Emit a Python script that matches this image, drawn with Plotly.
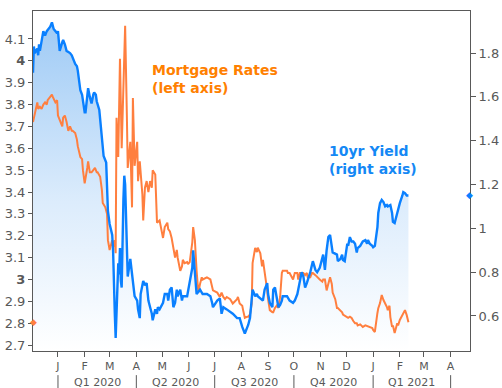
import plotly.graph_objects as go
import pandas as pd

# ---------------- data ----------------
yield_dates = [
    "2019-12-03", "2019-12-04", "2019-12-05", "2019-12-08", "2019-12-09", "2019-12-10", "2019-12-11",
    "2019-12-15", "2019-12-17", "2019-12-19", "2019-12-23", "2019-12-25", "2019-12-27", "2019-12-29",
    "2019-12-31", "2020-01-01", "2020-01-03", "2020-01-06", "2020-01-07", "2020-01-09", "2020-01-11",
    "2020-01-15", "2020-01-17", "2020-01-21", "2020-01-23", "2020-01-24", "2020-01-27", "2020-01-29",
    "2020-01-31", "2020-02-01", "2020-02-02", "2020-02-04", "2020-02-05", "2020-02-07", "2020-02-09",
    "2020-02-11", "2020-02-12", "2020-02-14", "2020-02-15", "2020-02-18", "2020-02-20", "2020-02-21",
    "2020-02-23", "2020-02-26", "2020-02-27", "2020-02-28", "2020-03-01", "2020-03-04", "2020-03-05",
    "2020-03-06", "2020-03-07", "2020-03-08", "2020-03-09", "2020-03-11", "2020-03-12", "2020-03-13",
    "2020-03-14", "2020-03-15", "2020-03-17", "2020-03-18", "2020-03-19", "2020-03-20", "2020-03-21",
    "2020-03-22", "2020-03-25", "2020-03-26", "2020-03-28", "2020-03-30", "2020-04-02", "2020-04-03",
    "2020-04-05", "2020-04-06", "2020-04-09", "2020-04-11", "2020-04-13", "2020-04-15", "2020-04-17",
    "2020-04-19", "2020-04-20", "2020-04-23", "2020-04-25", "2020-04-26", "2020-04-28", "2020-05-02",
    "2020-05-04", "2020-05-07", "2020-05-08", "2020-05-10", "2020-05-12", "2020-05-14", "2020-05-16",
    "2020-05-18", "2020-05-19", "2020-05-22", "2020-05-24", "2020-05-25", "2020-05-30", "2020-06-02",
    "2020-06-05", "2020-06-06", "2020-06-08", "2020-06-10", "2020-06-14", "2020-06-17", "2020-06-22",
    "2020-06-26", "2020-06-28", "2020-06-29", "2020-07-04", "2020-07-07", "2020-07-09", "2020-07-11",
    "2020-07-15", "2020-07-19", "2020-07-22", "2020-07-27", "2020-07-30", "2020-08-02", "2020-08-05",
    "2020-08-08", "2020-08-09", "2020-08-11", "2020-08-13", "2020-08-14", "2020-08-17", "2020-08-19",
    "2020-08-20", "2020-08-23", "2020-08-26", "2020-08-28", "2020-08-31", "2020-09-01", "2020-09-03",
    "2020-09-06", "2020-09-07", "2020-09-09", "2020-09-11", "2020-09-13", "2020-09-15", "2020-09-17",
    "2020-09-18", "2020-09-23", "2020-09-26", "2020-09-30", "2020-10-02", "2020-10-05", "2020-10-06",
    "2020-10-08", "2020-10-10", "2020-10-12", "2020-10-14", "2020-10-16", "2020-10-20", "2020-10-23",
    "2020-10-26", "2020-10-28", "2020-10-31", "2020-11-04", "2020-11-06", "2020-11-08", "2020-11-10",
    "2020-11-12", "2020-11-14", "2020-11-15", "2020-11-20", "2020-11-21", "2020-11-24", "2020-11-26",
    "2020-11-27", "2020-11-29", "2020-12-02", "2020-12-03", "2020-12-05", "2020-12-07", "2020-12-09",
    "2020-12-11", "2020-12-13", "2020-12-14", "2020-12-17", "2020-12-19", "2020-12-20", "2020-12-23",
    "2020-12-25", "2020-12-26", "2020-12-28", "2020-12-31", "2021-01-01", "2021-01-03", "2021-01-06",
    "2021-01-07", "2021-01-09", "2021-01-11", "2021-01-13", "2021-01-15", "2021-01-17", "2021-01-18",
    "2021-01-21", "2021-01-23", "2021-01-24", "2021-01-26", "2021-01-29", "2021-01-30", "2021-02-01",
    "2021-02-04", "2021-02-05", "2021-02-07", "2021-02-09", "2021-02-11",
]
yield_values = [
    1.71, 1.83, 1.80, 1.82, 1.79, 1.84, 1.81,
    1.90, 1.88, 1.90, 1.92, 1.94, 1.91, 1.90,
    1.89, 1.90, 1.81, 1.85, 1.86, 1.84, 1.81,
    1.80, 1.79, 1.75, 1.74, 1.72, 1.63, 1.61,
    1.55, 1.53, 1.53, 1.63, 1.64, 1.60, 1.57,
    1.61, 1.62, 1.61, 1.58, 1.54, 1.46, 1.40,
    1.33, 1.30, 1.17, 1.08, 1.02, 0.97, 0.90,
    0.70, 0.61, 0.50, 0.63, 0.84, 0.79, 0.91,
    0.76, 0.73, 1.13, 1.24, 1.20, 1.07, 0.91,
    0.78, 0.86, 0.83, 0.75, 0.69, 0.67, 0.63,
    0.59, 0.70, 0.76, 0.74, 0.75, 0.67, 0.64,
    0.61, 0.58, 0.63, 0.61, 0.64, 0.63, 0.66,
    0.70, 0.70, 0.67, 0.72, 0.73, 0.64, 0.66,
    0.72, 0.69, 0.72, 0.67, 0.69, 0.69, 0.75,
    0.82, 0.90, 0.81, 0.70, 0.72, 0.70, 0.70,
    0.69, 0.66, 0.64, 0.67, 0.68, 0.61, 0.64,
    0.63, 0.62, 0.61, 0.59, 0.59, 0.55, 0.52,
    0.55, 0.56, 0.59, 0.66, 0.72, 0.69, 0.70,
    0.69, 0.68, 0.67, 0.72, 0.75, 0.70, 0.66,
    0.64, 0.72, 0.73, 0.69, 0.64, 0.65, 0.67,
    0.69, 0.69, 0.67, 0.66, 0.67, 0.70, 0.72,
    0.77, 0.80, 0.78, 0.73, 0.75, 0.80, 0.85,
    0.81, 0.80, 0.82, 0.88, 0.81, 0.90, 0.96,
    0.97, 0.91, 0.89, 0.88, 0.85, 0.86, 0.88,
    0.855, 0.85, 0.93, 0.92, 0.96, 0.94, 0.94,
    0.93, 0.89, 0.91, 0.92, 0.93, 0.94, 0.946,
    0.93, 0.946, 0.93, 0.92, 0.914, 0.92, 1.005,
    1.07, 1.115, 1.13, 1.12, 1.10, 1.106, 1.10,
    1.106, 1.07, 1.03, 1.024, 1.07, 1.09, 1.115,
    1.15, 1.165, 1.16, 1.15, 1.15,
]

mortgage_dates = [
    "2019-12-03", "2019-12-05", "2019-12-08", "2019-12-09", "2019-12-11", "2019-12-13", "2019-12-15",
    "2019-12-17", "2019-12-19", "2019-12-20", "2019-12-23", "2019-12-25", "2019-12-26", "2019-12-29",
    "2019-12-31", "2020-01-01", "2020-01-03", "2020-01-06", "2020-01-07", "2020-01-09", "2020-01-11",
    "2020-01-13", "2020-01-15", "2020-01-17", "2020-01-18", "2020-01-21", "2020-01-23", "2020-01-24",
    "2020-01-27", "2020-01-29", "2020-01-30", "2020-02-01", "2020-02-04", "2020-02-05", "2020-02-07",
    "2020-02-09", "2020-02-11", "2020-02-13", "2020-02-15", "2020-02-16", "2020-02-19", "2020-02-21",
    "2020-02-22", "2020-02-25", "2020-02-27", "2020-02-28", "2020-03-01", "2020-03-04", "2020-03-05",
    "2020-03-07", "2020-03-08", "2020-03-09", "2020-03-11", "2020-03-13", "2020-03-15", "2020-03-17",
    "2020-03-19", "2020-03-21", "2020-03-22", "2020-03-25", "2020-03-26", "2020-03-27", "2020-03-28",
    "2020-03-30", "2020-04-02", "2020-04-03", "2020-04-05", "2020-04-08", "2020-04-09", "2020-04-11",
    "2020-04-13", "2020-04-15", "2020-04-17", "2020-04-19", "2020-04-20", "2020-04-23", "2020-04-25",
    "2020-04-28", "2020-05-01", "2020-05-02", "2020-05-04", "2020-05-07", "2020-05-08", "2020-05-10",
    "2020-05-12", "2020-05-14", "2020-05-16", "2020-05-18", "2020-05-19", "2020-05-22", "2020-05-24",
    "2020-05-25", "2020-05-27", "2020-05-30", "2020-05-31", "2020-06-02", "2020-06-05", "2020-06-06",
    "2020-06-08", "2020-06-10", "2020-06-12", "2020-06-14", "2020-06-16", "2020-06-17", "2020-06-22",
    "2020-06-26", "2020-06-28", "2020-06-29", "2020-07-04", "2020-07-07", "2020-07-09", "2020-07-11",
    "2020-07-13", "2020-07-15", "2020-07-19", "2020-07-22", "2020-07-27", "2020-07-28", "2020-07-30",
    "2020-08-02", "2020-08-03", "2020-08-05", "2020-08-08", "2020-08-09", "2020-08-11", "2020-08-13",
    "2020-08-14", "2020-08-17", "2020-08-19", "2020-08-20", "2020-08-23", "2020-08-25", "2020-08-26",
    "2020-08-28", "2020-08-31", "2020-09-01", "2020-09-03", "2020-09-06", "2020-09-07", "2020-09-09",
    "2020-09-11", "2020-09-13", "2020-09-15", "2020-09-17", "2020-09-18", "2020-09-23", "2020-09-24",
    "2020-09-26", "2020-09-29", "2020-09-30", "2020-10-02", "2020-10-05", "2020-10-06", "2020-10-08",
    "2020-10-10", "2020-10-12", "2020-10-14", "2020-10-16", "2020-10-17", "2020-10-20", "2020-10-22",
    "2020-10-23", "2020-10-26", "2020-10-28", "2020-10-29", "2020-10-31", "2020-11-03", "2020-11-04",
    "2020-11-06", "2020-11-08", "2020-11-10", "2020-11-12", "2020-11-14", "2020-11-15", "2020-11-18",
    "2020-11-20", "2020-11-21", "2020-11-24", "2020-11-26", "2020-11-27", "2020-12-02", "2020-12-03",
    "2020-12-05", "2020-12-07", "2020-12-09", "2020-12-11", "2020-12-13", "2020-12-14", "2020-12-17",
    "2020-12-19", "2020-12-20", "2020-12-23", "2020-12-25", "2020-12-26", "2020-12-28", "2020-12-31",
    "2021-01-01", "2021-01-03", "2021-01-06", "2021-01-07", "2021-01-09", "2021-01-11", "2021-01-13",
    "2021-01-15", "2021-01-17", "2021-01-18", "2021-01-20", "2021-01-21", "2021-01-22", "2021-01-23",
    "2021-01-24", "2021-01-26", "2021-01-29", "2021-01-30", "2021-02-01", "2021-02-04", "2021-02-05",
    "2021-02-07", "2021-02-09", "2021-02-11",
]
mortgage_values = [
    3.72, 3.76, 3.81, 3.78, 3.79, 3.78, 3.80,
    3.81, 3.80, 3.82, 3.835, 3.845, 3.835, 3.81,
    3.82, 3.75, 3.73, 3.70, 3.74, 3.75, 3.72,
    3.68, 3.70, 3.68, 3.68, 3.67, 3.64, 3.61,
    3.56, 3.55, 3.50, 3.44, 3.51, 3.54, 3.49,
    3.49, 3.50, 3.51, 3.49, 3.49, 3.47, 3.41,
    3.35, 3.33, 3.30, 3.18, 3.135, 3.18, 3.15,
    3.18, 3.12, 3.74, 3.56, 4.01, 3.60, 3.94,
    4.16, 3.75, 3.51, 3.63, 3.45, 3.33, 3.83,
    3.52, 3.63, 3.45, 3.54, 3.39, 3.27, 3.42,
    3.45, 3.40, 3.45, 3.42, 3.50, 3.48, 3.26,
    3.27, 3.21, 3.19, 3.24, 3.26, 3.23, 3.22,
    3.19, 3.15, 3.10, 3.135, 3.10, 3.04, 3.06,
    3.09, 3.075, 3.08, 3.07, 3.08, 3.17, 3.24,
    3.18, 3.04, 2.94, 2.98, 3.01, 3.00, 3.01,
    3.00, 2.97, 2.95, 2.94, 2.92, 2.94, 2.92,
    2.91, 2.92, 2.91, 2.89, 2.91, 2.92, 2.89,
    2.88, 2.86, 2.825, 2.83, 2.83, 2.84, 2.89,
    3.075, 3.145, 3.125, 3.145, 3.12, 3.06, 3.09,
    3.04, 2.95, 2.91, 2.86, 2.85, 2.85, 2.87,
    2.88, 2.87, 2.92, 3.03, 3.04, 3.04, 3.03,
    3.03, 3.01, 3.00, 3.03, 3.03, 3.00, 3.03,
    3.03, 3.03, 3.02, 3.03, 3.01, 3.01, 3.03,
    3.03, 3.02, 3.01, 3.01, 3.00, 2.99, 3.00,
    3.00, 2.95, 2.98, 3.01, 2.98, 2.94, 2.91,
    2.87, 2.87, 2.86, 2.85, 2.84, 2.83, 2.825,
    2.83, 2.824, 2.81, 2.80, 2.80, 2.79, 2.795,
    2.787, 2.783, 2.79, 2.787, 2.783, 2.783, 2.778,
    2.769, 2.76, 2.847, 2.869, 2.892, 2.929, 2.906,
    2.892, 2.874, 2.86, 2.88, 2.828, 2.80, 2.783,
    2.79, 2.755, 2.80, 2.79, 2.815, 2.837, 2.851,
    2.86, 2.837, 2.805,
]

month_ticks = pd.date_range("2020-01-01", "2021-04-01", freq="MS")
month_labels = ["J", "F", "M", "A", "M", "J", "J", "A", "S", "O", "N", "D", "J", "F", "M", "A"]
quarter_starts = ["2020-01-01", "2020-04-01", "2020-07-01", "2020-10-01", "2021-01-01", "2021-04-01"]
quarter_labels = ["Q1 2020", "Q2 2020", "Q3 2020", "Q4 2020", "Q1 2021"]

left_ticks = [2.7, 2.8, 2.9, 3.0, 3.1, 3.2, 3.3, 3.4, 3.5, 3.6, 3.7, 3.8, 3.9, 4.0, 4.1]
left_labels = ["2.7", "2.8", "2.9", "<b>3</b>", "3.1", "3.2", "3.3", "3.4", "3.5", "3.6",
               "3.7", "3.8", "3.9", "<b>4</b>", "4.1"]
right_ticks = [0.6, 0.8, 1.0, 1.2, 1.4, 1.6, 1.8]
right_labels = ["0.6", "0.8", "1", "1.2", "1.4", "1.6", "1.8"]

# ---------------- styling ----------------
FONT = "DejaVu Sans"
GREY = "#595959"
BLUE = "#0A80FF"
ORANGE = "#FF7F3F"
ORANGE_TXT = "#FF8000"
BLUE_TXT = "#1488F5"
YIELD_RANGE = [0.44, 1.992]
MORT_RANGE = [2.673, 4.228]

fig = go.Figure()

# gradient fill under the yield line (base layer, right axis)
fig.add_trace(go.Scatter(
    x=yield_dates, y=yield_values, yaxis="y", mode="lines",
    line=dict(width=0), fill="tozeroy",
    fillgradient=dict(type="vertical",
                      colorscale=[[0, "#FFFFFF"], [0.45, "#DCECFC"], [1, "#9ECAF5"]],
                      start=0.44, stop=1.95),
    hoverinfo="skip", showlegend=False,
))
# mortgage rates line (left axis)
fig.add_trace(go.Scatter(
    x=mortgage_dates, y=mortgage_values, yaxis="y2", mode="lines",
    line=dict(color=ORANGE, width=2), showlegend=False, name="Mortgage Rates",
))
# 10yr yield line (right axis, drawn on top)
fig.add_trace(go.Scatter(
    x=yield_dates, y=yield_values, yaxis="y3", mode="lines",
    line=dict(color=BLUE, width=2.4), showlegend=False, name="10yr Yield",
))

shapes = []
for q in quarter_starts:
    shapes.append(dict(type="line", xref="x", yref="paper", x0=q, x1=q,
                       y0=-0.071, y1=-0.11, line=dict(color=GREY, width=1)))

annotations = []
qs = pd.to_datetime(quarter_starts)
for i, lab in enumerate(quarter_labels):
    mid = qs[i] + (qs[i + 1] - qs[i]) / 2
    annotations.append(dict(x=mid, y=0, xref="x", yref="paper", text=lab, showarrow=False,
                            yanchor="middle", yshift=-31,
                            font=dict(family=FONT, size=11, color=GREY)))

annotations.append(dict(x=0.268, y=0.80, xref="paper", yref="paper", xanchor="left", yanchor="middle",
                        align="left", showarrow=False,
                        text="<b>Mortgage Rates<br>(left axis)</b>",
                        font=dict(family=FONT, size=14, color=ORANGE_TXT)))
annotations.append(dict(x=0.673, y=0.562, xref="paper", yref="paper", xanchor="left", yanchor="middle",
                        align="left", showarrow=False,
                        text="<b>10yr Yield<br>(right axis)</b>",
                        font=dict(family=FONT, size=14, color=BLUE_TXT)))
# latest-value markers on the axes
annotations.append(dict(x=0, y=mortgage_values[-1], xref="paper", yref="y2", xshift=-5,
                        text="◆", showarrow=False, font=dict(family=FONT, size=9, color=ORANGE)))
annotations.append(dict(x=1, y=yield_values[-1], xref="paper", yref="y", xshift=5,
                        text="◆", showarrow=False, font=dict(family=FONT, size=9, color=BLUE)))

fig.update_layout(
    width=502, height=388, autosize=False,
    margin=dict(l=33, r=32, t=11, b=37, pad=0, autoexpand=False),
    paper_bgcolor="white", plot_bgcolor="white",
    font=dict(family=FONT, color=GREY),
    xaxis=dict(type="date", range=["2019-12-03", "2021-04-23 12:00"],
               tickvals=month_ticks, ticktext=month_labels,
               ticks="outside", ticklen=5, tickcolor=GREY, tickwidth=1,
               showline=True, linecolor=GREY, linewidth=1, mirror=True,
               showgrid=False, zeroline=False, automargin=False,
               tickfont=dict(family=FONT, size=11, color=GREY)),
    yaxis=dict(range=YIELD_RANGE, tickvals=right_ticks, ticktext=right_labels,
               side="right",
               ticks="outside", ticklen=5, tickcolor=GREY,
               showline=True, linecolor=GREY, linewidth=1,
               showgrid=False, zeroline=False, automargin=False,
               tickfont=dict(family=FONT, size=13, color=GREY)),
    yaxis2=dict(range=MORT_RANGE, tickvals=left_ticks, ticktext=left_labels,
                overlaying="y", side="left",
                ticks="outside", ticklen=4, tickcolor=GREY,
                showline=True, linecolor=GREY, linewidth=1,
                showgrid=False, zeroline=False, automargin=False,
                tickfont=dict(family=FONT, size=13, color=GREY)),
    yaxis3=dict(range=YIELD_RANGE, overlaying="y", side="right", visible=False,
                showgrid=False, zeroline=False, automargin=False),
    shapes=shapes,
    annotations=annotations,
)

# the page's default 8px body margin would push the 502x388 figure out of the window
fig.write_html("out.html", config={"displayModeBar": False},
               post_script="document.body.style.margin='0';document.body.style.overflow='hidden';")
